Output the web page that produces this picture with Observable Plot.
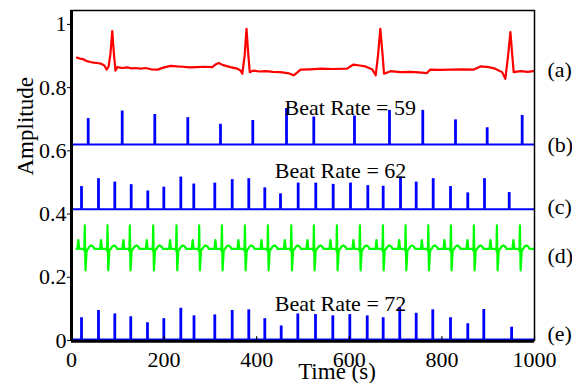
<!DOCTYPE html>
<html><head><meta charset="utf-8">
<script src="https://cdn.jsdelivr.net/npm/d3@7"></script>
<script src="https://cdn.jsdelivr.net/npm/@observablehq/plot@0.6"></script>
<style>
body{margin:0;background:#fff;}
svg{display:block;}
svg, svg text{font-family:"Liberation Serif","Times New Roman",serif !important;}
</style>
</head><body><div id="chart"></div>
<script>
// (a) raw ECG (red)
const ecgTime = [12,18,25,33,41,48,55,63,71,76,80,84,88,92,95,99,110,120,130,138,150,160,172,186,200,214,228,240,255,270,287,304,312,318,326,343,358,365,369,374,378,382,385,393,405,420,435,451,470,480,495,515,540,565,595,609,622,635,650,657,662,667,672,675,689,710,730,750,768,775,795,820,845,869,883,901,915,930,937,943,948,952,955,970,985,998];
const ecgAmp = [0.895,0.892,0.890,0.884,0.881,0.879,0.878,0.876,0.870,0.857,0.866,0.905,0.979,0.900,0.854,0.865,0.862,0.864,0.861,0.862,0.860,0.862,0.858,0.857,0.864,0.869,0.867,0.866,0.864,0.865,0.866,0.865,0.874,0.878,0.872,0.865,0.860,0.854,0.844,0.902,0.986,0.902,0.849,0.854,0.851,0.852,0.850,0.849,0.845,0.839,0.857,0.858,0.860,0.859,0.860,0.873,0.870,0.867,0.857,0.839,0.902,0.986,0.902,0.844,0.852,0.849,0.850,0.848,0.846,0.857,0.856,0.857,0.858,0.857,0.867,0.865,0.860,0.849,0.828,0.902,0.976,0.902,0.849,0.852,0.850,0.852];

// (b) beat spikes, rate 59
const bBase = 0.620;
const bTimes = [36.1,109.5,179.9,251.2,321.8,391.6,464.4,523.3,611.2,686.8,758.7,829.4,897.8,973.4];
const bTops = [0.702,0.726,0.715,0.705,0.684,0.696,0.734,0.707,0.710,0.728,0.728,0.698,0.673,0.712];

// (c) beat spikes, rate 62
const cBase = 0.415;
const cTimes = [21.6,58.3,93.5,128.9,164.8,199.4,236.1,264.1,309.5,347.1,382.9,417.5,451.4,489.6,527.6,565.2,602.6,640,673.2,710.6,744.5,781.2,818.6,855.9,892,945.4];
const cTops = [0.487,0.512,0.501,0.493,0.473,0.485,0.517,0.495,0.498,0.509,0.512,0.483,0.464,0.498,0.498,0.494,0.498,0.490,0.488,0.517,0.501,0.512,0.487,0.467,0.512,0.468];

// (d) synthetic ECG (green): beat times and one beat's shape
const greenBase = 0.290;
const greenStart = 11, greenEnd = 998;
const greenBeatTimes = [28.7,77.8,126,176.5,226.8,275.8,324.8,374.5,424.2,474.7,523.5,573.2,622.9,672.6,721.6,770.6,819.4,869.1,918.8,968.5];
const greenShapeDt = [-16,-14,-12,-2,-1,0,1.5,4,7,10,14,18,21];
const greenShapeAmp = [0.290,0.318,0.290,0.290,0.284,0.364,0.222,0.286,0.290,0.297,0.301,0.297,0.290];

// (e) beat spikes, rate 72
const eBase = 0;
const eTimes = [21.6,58.3,93.5,128,164.1,199.4,236.1,264.6,309.5,347.1,382.9,417.5,452.9,488.8,527,564.4,601.1,638.7,673.2,709,744.5,780.3,818.6,855.9,890.5,950.5];
const eTops = [0.072,0.095,0.084,0.075,0.056,0.069,0.102,0.078,0.081,0.095,0.097,0.069,0.046,0.084,0.082,0.078,0.082,0.078,0.072,0.105,0.086,0.097,0.072,0.053,0.098,0.042];

const rateLabels = ["Beat Rate = 59","Beat Rate = 62","Beat Rate = 72"];
const rateX = [460,439,439];
const rateY = [0.736,0.535,0.116];

const panelLabels = ["(a)","(b)","(c)","(d)","(e)"];
const panelY = [0.856,0.620,0.424,0.269,0.022];

const xTicks = [0,200,400,600,800,1000];
const yTicks = [0,0.2,0.4,0.6,0.8,1];

// tables
const ecg = ecgTime.map((t,i)=>({t, v: ecgAmp[i]}));
const spikes = (times, tops, base) => times.map((t,i)=>({t, top: tops[i], base}));
const bData = spikes(bTimes,bTops,bBase), cData = spikes(cTimes,cTops,cBase), eData = spikes(eTimes,eTops,eBase);
const green = [{t: greenStart, v: greenBase}];
for (const bt of greenBeatTimes) greenShapeDt.forEach((dt,j)=>green.push({t: bt+dt, v: greenShapeAmp[j]}));
green.push({t: greenEnd, v: greenBase});
const rates = rateLabels.map((s,i)=>({s, x: rateX[i], y: rateY[i]}));
const panels = panelLabels.map((s,i)=>({s, y: panelY[i]}));

const font = "Liberation Serif, Times New Roman, serif";
const blue = "#0000ff";

const chart = Plot.plot({
  width: 572, height: 383,
  marginLeft: 71, marginRight: 38, marginTop: 10, marginBottom: 43,
  x: {domain: [0, 1000]},
  y: {domain: [0, 1.044]},
  style: {fontFamily: font, fontSize: "22px", background: "white", color: "black"},
  marks: [
    Plot.ruleY([bBase, cBase], {stroke: blue, strokeWidth: 2}),
    Plot.ruleY([eBase], {stroke: blue, strokeWidth: 2, dy: -1}),
    Plot.ruleX(bData, {x: "t", y1: "base", y2: "top", stroke: blue, strokeWidth: 2.8}),
    Plot.ruleX(cData, {x: "t", y1: "base", y2: "top", stroke: blue, strokeWidth: 2.8}),
    Plot.ruleX(eData, {x: "t", y1: "base", y2: "top", stroke: blue, strokeWidth: 2.8}),
    Plot.line(ecg, {x: "t", y: "v", stroke: "#ff0000", strokeWidth: 2.2}),
    Plot.line(green, {x: "t", y: "v", stroke: "#00ff00", strokeWidth: 2.2}),
    Plot.text(rates, {x: "x", y: "y", text: "s", textAnchor: "start", lineAnchor: "middle", fontSize: 22, fontFamily: font}),
    Plot.frame({stroke: "black", strokeWidth: 1.5}),
    Plot.ruleX([0], {stroke: "black", strokeWidth: 3}),
    Plot.ruleY([0], {stroke: "black", strokeWidth: 2.5, dy: 1}),
    Plot.ruleX(xTicks, {x: d=>d, y1: 0, y2: 0.012, stroke: "black", strokeWidth: 1.2}),
    Plot.axisX(xTicks, {tickSize: 0, tickPadding: 11, tickFormat: d=>String(d), fontSize: 22, fontFamily: font, label: null}),
    Plot.axisY(yTicks, {tickSize: 4, tickPadding: 1, tickFormat: d=>String(d), fontSize: 22, fontFamily: font, label: null}),
    Plot.text(panels, {x: 1000, y: "y", text: "s", dx: 13, textAnchor: "start", lineAnchor: "middle", fontSize: 22, fontFamily: font}),
    Plot.text(["Amplitude"], {frameAnchor: "left", dx: -46, rotate: -90, fontSize: 23, lineAnchor: "middle", fontFamily: font}),
    Plot.text(["Time (s)"], {frameAnchor: "bottom", dx: 34, dy: 31, fontSize: 23, lineAnchor: "middle", fontFamily: font})
  ]
});
document.getElementById("chart").appendChild(chart);
</script>
</body></html>
